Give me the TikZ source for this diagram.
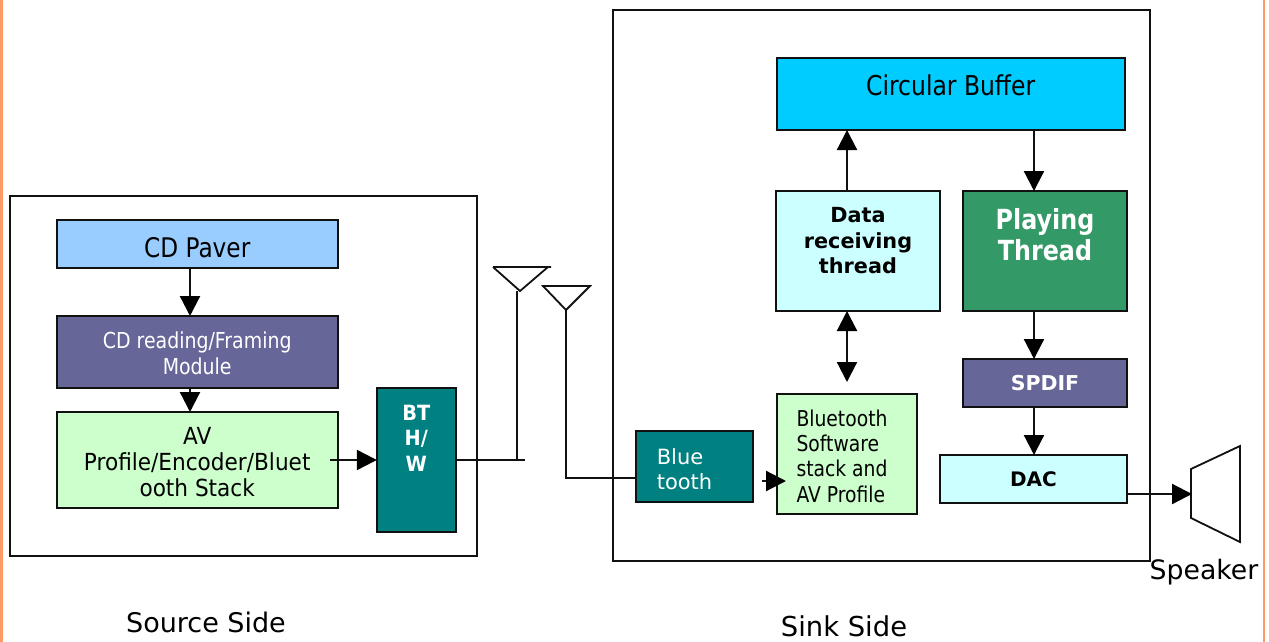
\documentclass[tikz,border=0pt]{standalone}
\usepackage{fontspec}
\setmainfont{DejaVu Sans}
\newfontfamily\cond[FakeStretch=0.86]{DejaVu Sans}
\newfontfamily\condb[FakeStretch=0.92]{DejaVu Sans}
\usetikzlibrary{arrows.meta}
\definecolor{cpaver}{HTML}{99CCFF}
\definecolor{cpurple}{HTML}{666699}
\definecolor{cgreen}{HTML}{CCFFCC}
\definecolor{cteal}{HTML}{008080}
\definecolor{ccyan}{HTML}{CCFFFF}
\definecolor{csky}{HTML}{00CCFF}
\definecolor{cplay}{HTML}{339966}
\definecolor{corange}{HTML}{FF9966}
\definecolor{cline}{HTML}{111111}
\newcommand\fs[2]{\fontsize{#1}{#2}\selectfont}
\tikzset{
  x=1pt,y=-1pt,
  box/.style={draw=cline,line width=2.2pt,inner sep=0pt,outer sep=0pt},
  frame/.style={box,fill=white},
  wire/.style={draw=cline,line width=2.2pt},
  flow/.style={wire,-{Triangle[length=20pt,width=20pt,color=black]}},
  both/.style={wire,{Triangle[length=20pt,width=20pt,color=black]}-{Triangle[length=20pt,width=20pt,color=black]}},
  txt/.style={align=center,inner sep=0pt,text=black},
  wtxt/.style={txt,text=white},
}
\begin{document}
\begin{tikzpicture}
\useasboundingbox (0,0) rectangle (1269,642);
\fill[white] (0,0) rectangle (1269,642);
\fill[corange] (0,0) rectangle (2.5,642);
\fill[corange] (1262.5,0) rectangle (1265,642);

% containers
\node[frame,minimum width=467pt,minimum height=360pt] (source) at (243.7,376.2) {};
\node[frame,minimum width=537pt,minimum height=551pt] (sink) at (881.5,285.7) {};

% source side
\node[box,fill=cpaver,minimum width=281pt,minimum height=48pt,
  label={[txt,font=\cond\fs{27}{32},yshift=-4pt]center:CD Paver}] (paver) at (197.2,244) {};
\node[box,fill=cpurple,minimum width=281pt,minimum height=72pt,
  label={[wtxt,font=\cond\fs{22}{25.5},yshift=-1.5pt]center:CD reading/Framing\\Module}] (read) at (197.2,352) {};
\node[box,fill=cgreen,minimum width=281pt,minimum height=96pt,
  label={[txt,font=\condb\fs{23.5}{26},yshift=-2pt]center:AV\\Profile/Encoder/Bluet\\ooth Stack}] (av) at (197.2,460) {};
\node[box,fill=cteal,minimum width=79pt,minimum height=144pt,
  label={[wtxt,font=\condb\bfseries\fs{21}{25.5},yshift=22pt]center:BT\\H/\\W}] (bt) at (416.3,460) {};

% sink side
\node[box,fill=csky,minimum width=348pt,minimum height=72pt,
  label={[txt,font=\cond\fs{27.3}{32},yshift=8.5pt]center:Circular Buffer}] (buffer) at (950.7,94) {};
\node[box,fill=ccyan,minimum width=164pt,minimum height=120pt,
  label={[txt,font=\bfseries\fs{20.8}{25.5},yshift=10pt]center:Data\\receiving\\thread}] (data) at (858,251) {};
\node[box,fill=cplay,minimum width=164pt,minimum height=120pt,
  label={[wtxt,font=\cond\bfseries\fs{27.7}{31.5},yshift=16.5pt]center:Playing\\Thread}] (play) at (1045,251) {};
\node[box,fill=cpurple,minimum width=164pt,minimum height=48pt,
  label={[wtxt,font=\bfseries\fs{20.5}{24}]center:SPDIF}] (spdif) at (1045,383) {};
\node[box,fill=ccyan,minimum width=187pt,minimum height=48pt,
  label={[txt,font=\bfseries\fs{20}{24}]center:DAC}] (dac) at (1033.5,479) {};
\node[box,fill=cgreen,minimum width=140pt,minimum height=120pt,
  label={[txt,align=left,font=\cond\fs{21.8}{25.3},xshift=-5pt,yshift=-2pt]center:Bluetooth\\Software\\stack and\\AV Profile}] (stack) at (847,454) {};
\node[box,fill=cteal,minimum width=117pt,minimum height=71pt,
  label={[wtxt,align=left,font=\fs{21}{25},xshift=-10pt,yshift=-2pt]center:Blue\\tooth}] (blue) at (694.5,466.7) {};

% antennas and speaker outline coordinates
\coordinate (a1l) at (493,267);
\coordinate (a1r) at (548,267);
\coordinate (a1t) at (520,291);
\coordinate (a1e) at (551,267);
\coordinate (a2l) at (543,286);
\coordinate (a2r) at (590,286);
\coordinate (a2t) at (566,310);
\coordinate (a1foot) at (517,460);
\coordinate (btend) at (525,460);
\coordinate (a1stem) at (517,291);
\coordinate (a2foot) at (566,478);
\coordinate (avstart) at (330,460);
\coordinate (bluestart) at (762,481);
\coordinate (stackwest) at (786,481);
\coordinate (spk1) at (1191,469);
\coordinate (spk2) at (1240,446);
\coordinate (spk3) at (1240,542);
\coordinate (spk4) at (1191,518);
\coordinate (dacout) at (1127,494);
\coordinate (spkin) at (1192,494);

\draw[line width=1.8pt,draw=cline,line join=miter] (a1l) -- (a1e) (a1l) -- (a1t) -- (a1r);
\draw[line width=1.8pt,draw=cline,line join=miter] (a2l) -- (a2r) -- (a2t) -- cycle;
\draw[line width=1.8pt,draw=cline,line join=miter] (spk1) -- (spk2) -- (spk3) -- (spk4) -- cycle;

% connectors
\coordinate (xa) at (190,0);
\coordinate (xb) at (847,0);
\coordinate (xc) at (1034,0);
\draw[flow] (paver.south -| xa) -- (read.north -| xa);
\draw[flow] (read.south -| xa) -- (av.north -| xa);
\draw[flow] (avstart) -- (bt.west |- avstart);
\draw[wire] (bt.east |- btend) -- (btend);
\draw[wire] (a1foot) -- (a1stem);
\draw[wire] (a2t) -- (a2foot) -- (blue.west |- a2foot);
\draw[flow] (bluestart) -- (stackwest);
\draw[flow] (data.north -| xb) -- (buffer.south -| xb);
\draw[flow] (buffer.south -| xc) -- (play.north -| xc);
\draw[both] (data.south -| xb) -- (847,382);
\draw[flow] (play.south -| xc) -- (spdif.north -| xc);
\draw[flow] (spdif.south -| xc) -- (dac.north -| xc);
\draw[flow] (dacout) -- (spkin);

% captions
\node[txt,font=\fs{27}{32}] (srccap) at (206,622.5) {Source Side};
\node[txt,font=\fs{27.4}{32}] (sinkcap) at (844,626.5) {Sink Side};
\node[txt,font=\fs{26.7}{32}] (spkcap) at (1204,572.5) {Speaker};
\end{tikzpicture}
\end{document}
